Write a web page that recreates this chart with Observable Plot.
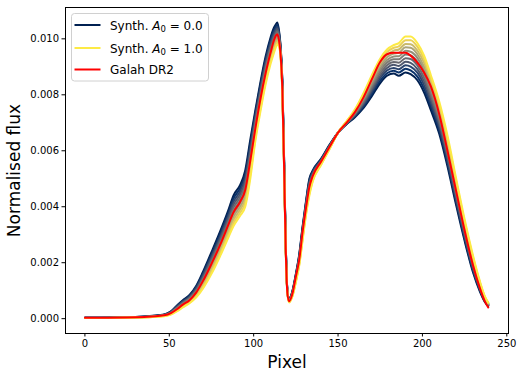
<!DOCTYPE html>
<html><head><meta charset="utf-8">
<script src="https://cdn.jsdelivr.net/npm/d3@7"></script>
<script src="https://cdn.jsdelivr.net/npm/@observablehq/plot@0.6"></script>
<style>body{margin:0;background:#fff;} #chart{width:526px;height:379px;}</style>
</head><body><div id="chart"></div>
<script>
const pixels = [0,30,40,47,51,55,58,62,66,70,75,80,85,88,92,95,98,101,104,107,110,112,113,114,115,116,117,118,119,120,121,123,125,127,129,131,133,135,140,145,150,155,160,165,170,175,179,183,186,190,193,197,201,205,210,215,220,225,230,234,237,239];
const a0Levels = [0.0,0.1,0.2,0.3,0.4,0.5,0.6,0.7,0.8,0.9,1.0];
const synthA0_00 = [0.00003,0.00006,0.00010,0.00015,0.00026,0.00050,0.00066,0.00085,0.00118,0.00168,0.00238,0.00310,0.00388,0.00440,0.00478,0.00530,0.00640,0.00745,0.00845,0.00935,0.01005,0.01040,0.01050,0.01058,0.01030,0.00970,0.00850,0.00580,0.00270,0.00100,0.00070,0.00100,0.00160,0.00230,0.00330,0.00420,0.00500,0.00530,0.00572,0.00622,0.00665,0.00695,0.00720,0.00752,0.00795,0.00842,0.00868,0.00876,0.00868,0.00880,0.00874,0.00852,0.00808,0.00745,0.00660,0.00540,0.00405,0.00278,0.00165,0.00098,0.00060,0.00045];
const synthA0_01 = [0.00003,0.00006,0.00010,0.00014,0.00025,0.00048,0.00063,0.00082,0.00114,0.00162,0.00230,0.00301,0.00378,0.00429,0.00467,0.00517,0.00626,0.00734,0.00835,0.00925,0.00996,0.01031,0.01042,0.01050,0.01024,0.00966,0.00845,0.00576,0.00267,0.00099,0.00069,0.00098,0.00157,0.00226,0.00325,0.00415,0.00494,0.00526,0.00570,0.00620,0.00665,0.00696,0.00723,0.00757,0.00803,0.00851,0.00877,0.00886,0.00880,0.00893,0.00887,0.00865,0.00821,0.00758,0.00672,0.00551,0.00415,0.00286,0.00171,0.00102,0.00062,0.00046];
const synthA0_02 = [0.00003,0.00006,0.00009,0.00014,0.00024,0.00046,0.00061,0.00079,0.00110,0.00156,0.00222,0.00292,0.00368,0.00418,0.00456,0.00504,0.00612,0.00723,0.00824,0.00915,0.00986,0.01022,0.01034,0.01042,0.01018,0.00962,0.00840,0.00572,0.00264,0.00098,0.00068,0.00096,0.00154,0.00222,0.00320,0.00410,0.00488,0.00522,0.00568,0.00619,0.00665,0.00697,0.00726,0.00763,0.00810,0.00860,0.00887,0.00896,0.00891,0.00906,0.00901,0.00879,0.00834,0.00770,0.00683,0.00562,0.00424,0.00293,0.00177,0.00105,0.00064,0.00048];
const synthA0_03 = [0.00003,0.00005,0.00009,0.00013,0.00023,0.00043,0.00058,0.00076,0.00105,0.00150,0.00215,0.00284,0.00359,0.00407,0.00445,0.00491,0.00598,0.00712,0.00814,0.00905,0.00977,0.01013,0.01025,0.01035,0.01013,0.00958,0.00835,0.00568,0.00261,0.00097,0.00066,0.00094,0.00151,0.00218,0.00315,0.00405,0.00482,0.00518,0.00565,0.00617,0.00665,0.00698,0.00728,0.00768,0.00818,0.00868,0.00896,0.00907,0.00903,0.00918,0.00914,0.00892,0.00848,0.00783,0.00695,0.00573,0.00434,0.00301,0.00183,0.00109,0.00066,0.00049];
const synthA0_04 = [0.00003,0.00005,0.00008,0.00013,0.00022,0.00041,0.00056,0.00073,0.00101,0.00144,0.00207,0.00275,0.00349,0.00396,0.00434,0.00478,0.00584,0.00701,0.00803,0.00895,0.00967,0.01004,0.01017,0.01027,0.01007,0.00954,0.00830,0.00564,0.00258,0.00096,0.00065,0.00092,0.00148,0.00214,0.00310,0.00400,0.00476,0.00514,0.00563,0.00616,0.00665,0.00699,0.00731,0.00773,0.00825,0.00877,0.00906,0.00917,0.00915,0.00931,0.00928,0.00905,0.00861,0.00795,0.00706,0.00584,0.00443,0.00309,0.00189,0.00113,0.00068,0.00050];
const synthA0_05 = [0.00002,0.00005,0.00008,0.00012,0.00021,0.00039,0.00053,0.00070,0.00097,0.00138,0.00199,0.00266,0.00339,0.00385,0.00423,0.00465,0.00570,0.00690,0.00793,0.00885,0.00958,0.00995,0.01009,0.01019,0.01001,0.00950,0.00825,0.00560,0.00255,0.00095,0.00064,0.00090,0.00145,0.00210,0.00305,0.00395,0.00470,0.00510,0.00561,0.00614,0.00665,0.00700,0.00734,0.00779,0.00833,0.00886,0.00915,0.00927,0.00927,0.00944,0.00941,0.00919,0.00874,0.00808,0.00718,0.00595,0.00453,0.00317,0.00195,0.00117,0.00070,0.00052];
const synthA0_06 = [0.00002,0.00005,0.00008,0.00011,0.00019,0.00037,0.00050,0.00067,0.00093,0.00132,0.00191,0.00257,0.00329,0.00374,0.00412,0.00452,0.00556,0.00679,0.00782,0.00875,0.00948,0.00986,0.01001,0.01011,0.00995,0.00946,0.00820,0.00556,0.00252,0.00094,0.00063,0.00088,0.00142,0.00206,0.00300,0.00390,0.00464,0.00506,0.00559,0.00612,0.00665,0.00701,0.00737,0.00784,0.00840,0.00895,0.00924,0.00937,0.00938,0.00957,0.00954,0.00932,0.00887,0.00820,0.00729,0.00606,0.00462,0.00324,0.00201,0.00120,0.00072,0.00053];
const synthA0_07 = [0.00002,0.00005,0.00007,0.00011,0.00018,0.00035,0.00048,0.00064,0.00089,0.00126,0.00183,0.00248,0.00319,0.00363,0.00401,0.00439,0.00542,0.00668,0.00772,0.00865,0.00939,0.00977,0.00993,0.01003,0.00989,0.00942,0.00815,0.00552,0.00249,0.00093,0.00062,0.00086,0.00139,0.00202,0.00295,0.00385,0.00458,0.00502,0.00557,0.00611,0.00665,0.00702,0.00740,0.00789,0.00848,0.00904,0.00934,0.00947,0.00950,0.00970,0.00968,0.00945,0.00900,0.00833,0.00741,0.00617,0.00472,0.00332,0.00207,0.00124,0.00074,0.00054];
const synthA0_08 = [0.00002,0.00004,0.00007,0.00010,0.00017,0.00032,0.00045,0.00061,0.00084,0.00120,0.00176,0.00240,0.00310,0.00352,0.00390,0.00426,0.00528,0.00657,0.00761,0.00855,0.00929,0.00968,0.00984,0.00996,0.00984,0.00938,0.00810,0.00548,0.00246,0.00092,0.00060,0.00084,0.00136,0.00198,0.00290,0.00380,0.00452,0.00498,0.00554,0.00609,0.00665,0.00703,0.00742,0.00794,0.00855,0.00912,0.00943,0.00958,0.00962,0.00982,0.00981,0.00958,0.00914,0.00845,0.00752,0.00628,0.00481,0.00340,0.00213,0.00128,0.00076,0.00055];
const synthA0_09 = [0.00002,0.00004,0.00006,0.00010,0.00016,0.00030,0.00043,0.00058,0.00080,0.00114,0.00168,0.00231,0.00300,0.00341,0.00379,0.00413,0.00514,0.00646,0.00751,0.00845,0.00920,0.00959,0.00976,0.00988,0.00978,0.00934,0.00805,0.00544,0.00243,0.00091,0.00059,0.00082,0.00133,0.00194,0.00285,0.00375,0.00446,0.00494,0.00552,0.00608,0.00665,0.00704,0.00745,0.00800,0.00863,0.00921,0.00953,0.00968,0.00973,0.00995,0.00995,0.00972,0.00927,0.00858,0.00764,0.00639,0.00491,0.00347,0.00219,0.00131,0.00078,0.00057];
const synthA0_10 = [0.00002,0.00004,0.00006,0.00009,0.00015,0.00028,0.00040,0.00055,0.00076,0.00108,0.00160,0.00222,0.00290,0.00330,0.00368,0.00400,0.00500,0.00635,0.00740,0.00835,0.00910,0.00950,0.00968,0.00980,0.00972,0.00930,0.00800,0.00540,0.00240,0.00090,0.00058,0.00080,0.00130,0.00190,0.00280,0.00370,0.00440,0.00490,0.00550,0.00606,0.00665,0.00705,0.00748,0.00805,0.00870,0.00930,0.00962,0.00978,0.00985,0.01008,0.01008,0.00985,0.00940,0.00870,0.00775,0.00650,0.00500,0.00355,0.00225,0.00135,0.00080,0.00058];
const galahDR2 = [0.00003,0.00005,0.00008,0.00012,0.00020,0.00036,0.00050,0.00066,0.00094,0.00135,0.00196,0.00262,0.00336,0.00380,0.00418,0.00460,0.00565,0.00680,0.00785,0.00875,0.00950,0.00995,0.01010,0.01016,0.00995,0.00940,0.00820,0.00550,0.00250,0.00090,0.00062,0.00090,0.00150,0.00210,0.00310,0.00395,0.00470,0.00510,0.00562,0.00614,0.00665,0.00700,0.00738,0.00790,0.00855,0.00918,0.00945,0.00950,0.00950,0.00950,0.00940,0.00915,0.00880,0.00830,0.00730,0.00595,0.00455,0.00315,0.00190,0.00110,0.00062,0.00040];
const xTicks = [0,50,100,150,200,250];
const yTicks = [0.000,0.002,0.004,0.006,0.008,0.010];
const legendLabels = [["Synth. ","A","0"," = 0.0"],["Synth. ","A","0"," = 1.0"],["Galah DR2"]];

const synthSeries = [synthA0_00,synthA0_01,synthA0_02,synthA0_03,synthA0_04,synthA0_05,synthA0_06,synthA0_07,synthA0_08,synthA0_09,synthA0_10];
const synthRows = [];
synthSeries.forEach((vals, i) => vals.forEach((v, j) => synthRows.push({a0: a0Levels[i], pixel: pixels[j], flux: v})));
const galahRows = galahDR2.map((v, j) => ({pixel: pixels[j], flux: v}));

const FONT = "'DejaVu Sans', sans-serif";
const chart = Plot.plot({
  width: 526, height: 379,
  marginLeft: 65, marginRight: 18, marginTop: 7, marginBottom: 46,
  style: {fontFamily: FONT, fontSize: "10px", color: "#000", background: "#fff"},
  x: {domain: [-11.5, 251], label: null},
  y: {domain: [-0.00053, 0.01112], label: null},
  color: {type: "linear", domain: [0, 1], scheme: "cividis"},
  marks: [
    Plot.line(synthRows, {x: "pixel", y: "flux", z: "a0", stroke: "a0", strokeWidth: 2, curve: "monotone-x"}),
    Plot.line(galahRows, {x: "pixel", y: "flux", stroke: "#ff0000", strokeWidth: 2, curve: "monotone-x"}),
    Plot.frame({stroke: "#000", strokeWidth: 1}),
    Plot.axisX({ticks: xTicks, tickSize: 3.5, tickPadding: 3, label: null, fontSize: 10}),
    Plot.axisY({ticks: yTicks, tickFormat: ".3f", tickSize: 3.5, tickPadding: 3, label: null, fontSize: 10}),
    Plot.text(["Pixel"], {frameAnchor: "bottom", dy: 29, fontSize: 17, textAnchor: "middle", lineAnchor: "middle", fill: "#000"}),
    Plot.text(["Normalised flux"], {frameAnchor: "left", dx: -51, rotate: -90, fontSize: 17, textAnchor: "middle", lineAnchor: "middle", fill: "#000"})
  ]
});
document.getElementById("chart").appendChild(chart);

// legend
const svg = d3.select(chart);
const lg = svg.append("g").attr("font-family", FONT).attr("font-size", 12).attr("fill", "#000").attr("text-anchor", "start");
lg.append("rect").attr("x", 71.5).attr("y", 13.5).attr("width", 137).attr("height", 67.5)
  .attr("rx", 3).attr("fill", "#fff").attr("fill-opacity", 0.8).attr("stroke", "#d0d0d0");
const legendColors = [d3.interpolateCividis(0), d3.interpolateCividis(1), "#ff0000"];
const rowY = [25, 48, 69.5];
legendLabels.forEach((parts, i) => {
  const y = rowY[i];
  lg.append("line").attr("x1", 74.5).attr("x2", 100.5).attr("y1", y).attr("y2", y)
    .attr("stroke", legendColors[i]).attr("stroke-width", 2);
  const t = lg.append("text").attr("x", 110).attr("y", y + 4.5).attr("text-anchor", "start");
  if (parts.length === 1) { t.text(parts[0]); }
  else {
    t.append("tspan").text(parts[0]);
    t.append("tspan").attr("font-style", "italic").text(parts[1]);
    t.append("tspan").attr("font-size", 8.5).attr("dy", 2.5).text(parts[2]);
    t.append("tspan").attr("dy", -2.5).text(parts[3]);
  }
});
</script>
</body></html>
